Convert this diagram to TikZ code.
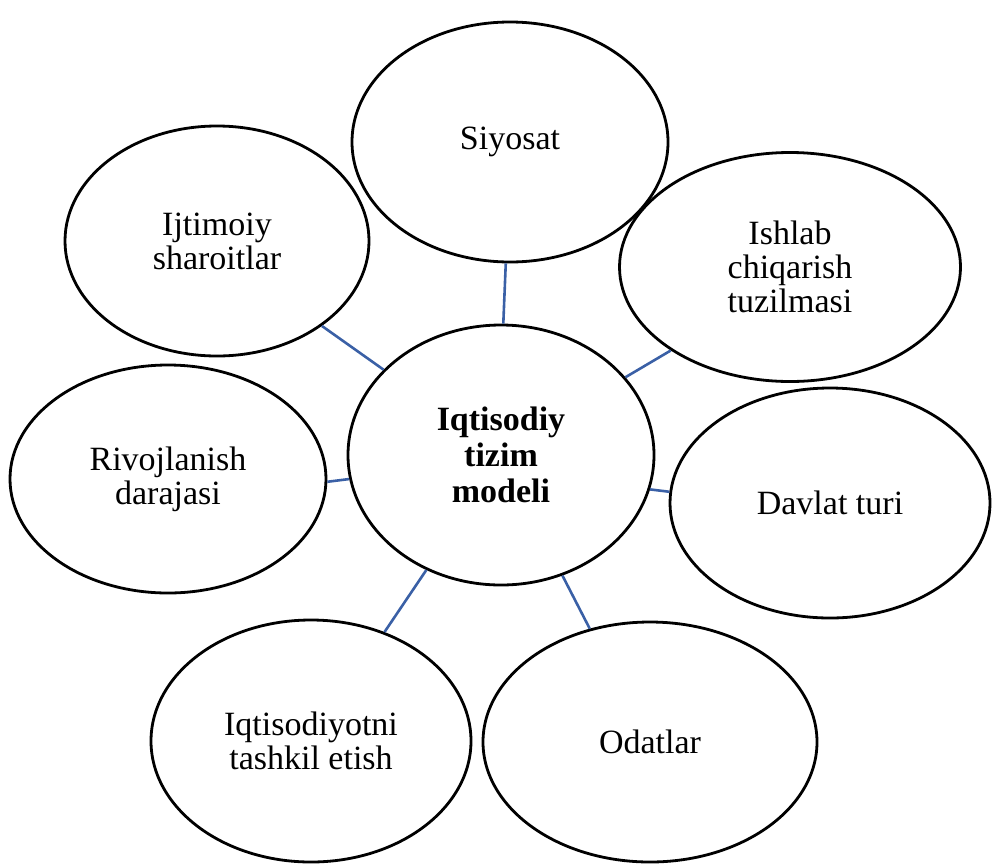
\documentclass[tikz,border=0pt]{standalone}
\usepackage{fontspec}
\setmainfont{Liberation Serif}
\usetikzlibrary{shapes.geometric}
\definecolor{azul}{RGB}{58,96,166}

\begin{document}
\begin{tikzpicture}[x=1pt, y=-1pt,
	oval/.style={ellipse, draw=black, line width=2.8pt, fill=white, inner sep=0pt,
		align=center, font=\fontsize{34}{34}\selectfont},
	enlace/.style={draw=azul, line width=2.6pt}]
				%Marco
				\useasboundingbox (0,0) rectangle (992,865);
				%Elipses
				\node[oval, minimum width=316pt, minimum height=240pt] (siyosat) at (510,142) {Siyosat};
				\node[oval, minimum width=304pt, minimum height=230pt] (ijtimoiy) at (217,241) {Ijtimoiy\\sharoitlar};
				\node[oval, minimum width=341pt, minimum height=229pt] (ishlab) at (790,267) {Ishlab\\chiqarish\\tuzilmasi};
				\node[oval, minimum width=316pt, minimum height=228pt] (rivoj) at (168,479) {Rivojlanish\\darajasi};
				\node[oval, minimum width=320pt, minimum height=230pt] (davlat) at (830,503) {Davlat turi};
				\node[oval, minimum width=320pt, minimum height=242pt] (tashkil) at (311,741) {Iqtisodiyotni\\tashkil etish};
				\node[oval, minimum width=334pt, minimum height=240pt] (odat) at (650,742) {Odatlar};
				%Centro
				\node[oval, minimum width=306pt, minimum height=260pt,
					font=\fontsize{34}{36}\selectfont\bfseries] (model) at (501,455) {Iqtisodiy\\tizim\\modeli};
				%Enlaces
				\draw[enlace] (model.89) -- (siyosat.268);
				\draw[enlace] (model.144) -- (ijtimoiy.321);
				\draw[enlace] (model.32) -- (ishlab.215);
				\draw[enlace] (model.189) -- (rivoj.359);
				\draw[enlace] (model.347) -- (davlat.176);
				\draw[enlace] (model.237) -- (tashkil.56);
				\draw[enlace] (model.297) -- (odat.118);
\end{tikzpicture}
\end{document}
